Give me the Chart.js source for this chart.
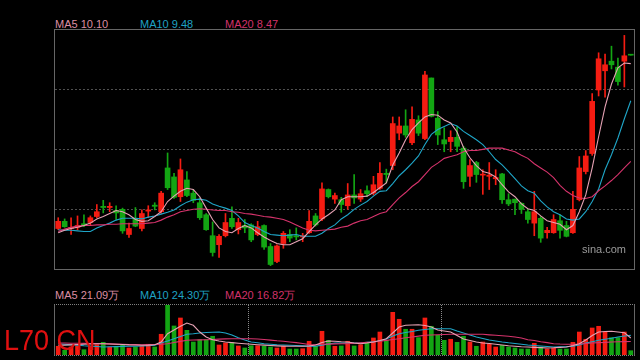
<!DOCTYPE html>
<html><head><meta charset="utf-8">
<script src="https://cdn.jsdelivr.net/npm/chart.js@4/dist/chart.umd.min.js"></script>
<style>
html,body{margin:0;padding:0;background:#000;}
#root{position:relative;width:640px;height:360px;background:#000;overflow:hidden;font-family:"Liberation Sans",Arial,sans-serif;}
#mainFrame{position:absolute;left:54px;top:29px;width:581px;height:241px;box-sizing:border-box;border:1px solid #666;}
#volFrame{position:absolute;left:54px;top:304px;width:581px;height:52px;box-sizing:border-box;border-left:1px solid #666;border-right:1px solid #666;border-top:1px dotted #808080;border-bottom:1px dotted #808080;}
canvas{display:block;}
.lbl{position:absolute;font-size:11px;line-height:11px;white-space:nowrap;}
#wm{position:absolute;left:4px;top:325px;font-size:30px;line-height:30px;color:#e01010;white-space:nowrap;transform:scaleX(0.9);transform-origin:left top;}
#sina{position:absolute;left:582px;top:244px;font-size:11px;line-height:11px;color:#9a9a9a;}
</style></head>
<body>
<div id="root">
  <div id="mainFrame"><canvas id="main" width="579" height="239"></canvas></div>
  <div id="volFrame"><canvas id="vol" width="579" height="50"></canvas></div>
  <div class="lbl" id="l5" style="left:55px;top:19px;color:#dc8ea2"></div>
  <div class="lbl" id="l10" style="left:140px;top:19px;color:#1fa2c4"></div>
  <div class="lbl" id="l20" style="left:225px;top:19px;color:#d2326a"></div>
  <div class="lbl" id="v5" style="left:55px;top:290px;color:#dc8ea2"></div>
  <div class="lbl" id="v10" style="left:140px;top:290px;color:#1fa2c4"></div>
  <div class="lbl" id="v20" style="left:225px;top:290px;color:#d2326a"></div>
  <div id="sina">sina.com</div>
  <div id="wm">L70 CN</div>
</div>
<script>
// ---- price data (one candle per trading day) ----
const opens = [7.35,7.47,7.35,7.37,7.43,7.45,7.55,7.72,7.70,7.65, 7.67,7.25,7.52,7.35,7.64,7.74,7.63,8.36,8.21,7.88, 8.16,7.94,7.78,7.58,7.23,7.08,7.23,7.52,7.33,7.40, 7.41,7.25,7.40,7.05,6.80,7.10,7.25,7.23,7.21,7.28, 7.56,7.51,8.00,7.84,7.83,7.73,7.91,7.84,7.98,7.94, 8.02,8.27,8.40,8.94,9.06,8.78,9.16,8.85,9.86,9.19, 8.83,8.80,8.87,8.69,8.22,8.45,8.24,8.22,8.18,8.26, 7.83,7.84,7.77,7.63,7.44,7.52,7.28,7.28,7.48,7.40, 7.28,7.83,8.30,8.60,9.66,9.98,10.14,10.04,10.14,10.24];
const highs = [7.53,7.51,7.53,7.56,7.58,7.56,7.75,7.82,7.78,7.73, 7.69,7.44,7.70,7.66,7.73,7.78,7.97,8.61,8.27,8.51, 8.30,8.00,7.86,7.60,7.46,7.25,7.60,7.71,7.52,7.50, 7.43,7.47,7.41,7.10,7.08,7.30,7.33,7.36,7.27,7.65, 7.60,8.11,8.01,7.94,7.87,8.10,8.25,8.00,8.06,8.22, 8.45,8.34,9.21,9.21,9.33,9.38,9.23,9.97,9.86,9.30, 9.03,8.98,9.05,8.72,8.50,8.47,8.33,8.45,8.33,8.27, 7.93,7.84,7.78,7.67,7.97,7.55,7.37,7.58,7.58,7.47, 7.97,8.55,8.65,9.60,10.28,10.26,10.39,10.19,10.57,10.24];
const lows = [7.33,7.37,7.25,7.33,7.38,7.40,7.53,7.61,7.63,7.50, 7.27,7.20,7.38,7.31,7.53,7.66,7.60,8.00,7.85,7.80, 7.88,7.78,7.50,7.32,6.89,6.87,7.21,7.35,7.26,7.28, 7.13,7.23,7.00,6.73,6.78,7.02,7.13,7.16,7.13,7.27, 7.39,7.48,7.86,7.77,7.62,7.67,7.77,7.80,7.88,7.91, 8.00,8.11,8.33,8.83,8.87,8.75,8.90,8.83,9.21,8.75, 8.63,8.63,8.63,8.02,8.05,8.12,7.92,8.00,8.08,7.77, 7.73,7.58,7.60,7.44,7.23,7.12,7.19,7.27,7.19,7.21, 7.27,7.81,8.26,8.57,9.56,9.54,10.01,9.74,9.71,10.24];
const closes = [7.47,7.38,7.37,7.40,7.40,7.53,7.63,7.70,7.72,7.61, 7.31,7.35,7.39,7.60,7.66,7.72,7.94,8.03,7.87,8.33, 7.90,7.82,7.53,7.33,6.95,7.22,7.45,7.38,7.45,7.36, 7.16,7.38,7.04,6.75,7.06,7.27,7.19,7.21,7.23,7.47, 7.41,8.01,7.88,7.90,7.75,7.91,7.86,7.93,7.93,8.08, 8.27,8.25,9.10,9.06,8.91,9.17,8.94,9.91,9.22,8.91, 8.76,8.87,8.72,8.13,8.40,8.25,8.25,8.24,8.20,7.83, 7.76,7.78,7.67,7.50,7.63,7.19,7.32,7.50,7.32,7.22, 7.67,8.36,8.56,9.47,10.18,10.08,10.08,9.80,10.23,10.24];
// ---- price moving averages ----
const ma5 = [7.28,7.32,7.35,7.37,7.40,7.44,7.51,7.55,7.60,7.65, 7.63,7.58,7.50,7.47,7.48,7.55,7.63,7.80,7.89,7.97, 8.02,8.00,7.88,7.69,7.50,7.36,7.30,7.28,7.35,7.40, 7.36,7.28,7.21,7.15,7.10,7.08,7.08,7.13,7.18,7.30, 7.41,7.51,7.58,7.66,7.83,7.88,7.88,7.88,7.89,7.95, 8.03,8.11,8.41,8.61,8.83,9.00,9.11,9.21,9.25,9.24, 9.16,9.11,8.96,8.70,8.53,8.40,8.30,8.27,8.21,8.08, 7.96,7.88,7.76,7.68,7.65,7.56,7.48,7.45,7.42,7.33, 7.40,7.63,7.91,8.36,8.88,9.38,9.76,10.03,10.11,10.10];
const ma10 = [7.33,7.32,7.32,7.31,7.30,7.30,7.36,7.40,7.44,7.49, 7.52,7.52,7.52,7.51,7.54,7.56,7.59,7.62,7.66,7.73, 7.79,7.83,7.84,7.82,7.76,7.72,7.69,7.65,7.56,7.45, 7.40,7.36,7.30,7.25,7.24,7.23,7.24,7.25,7.22,7.22, 7.22,7.27,7.35,7.41,7.51,7.58,7.67,7.74,7.80,7.89, 7.97,7.98,8.10,8.23,8.33,8.44,8.56,8.75,8.92,9.00, 9.05,9.10,9.06,8.97,8.90,8.83,8.75,8.63,8.50,8.41, 8.30,8.18,8.06,7.98,7.94,7.81,7.71,7.63,7.58,7.51, 7.49,7.51,7.63,7.80,8.01,8.33,8.58,8.86,9.18,9.48];
const ma20 = [7.30,7.34,7.37,7.39,7.40,7.40,7.41,7.41,7.42,7.42, 7.43,7.43,7.43,7.43,7.44,7.45,7.49,7.54,7.58,7.63, 7.65,7.67,7.68,7.67,7.66,7.65,7.65,7.63,7.62,7.60, 7.59,7.57,7.55,7.54,7.52,7.50,7.46,7.41,7.36,7.32, 7.31,7.32,7.33,7.34,7.37,7.39,7.44,7.48,7.50,7.55, 7.60,7.63,7.75,7.86,7.95,8.05,8.13,8.25,8.37,8.44, 8.52,8.55,8.58,8.63,8.65,8.65,8.67,8.69,8.69,8.69, 8.66,8.63,8.57,8.52,8.43,8.36,8.29,8.20,8.07,7.97, 7.90,7.86,7.85,7.88,7.98,8.06,8.15,8.25,8.36,8.47];
// ---- volume (万) and its moving averages ----
const volumes = [10.8,5.8,9.9,11.2,6.6,9.9,12.8,15.7,9.9,10.8, 12.0,8.7,9.9,11.2,13.3,9.9,25.7,61.6,36.0,45.9, 30.6,16.1,19.0,19.0,23.2,12.4,14.9,15.3,11.2,8.7, 11.5,11.5,10.8,9.9,8.7,10.8,7.4,7.4,7.8,17.0, 10.8,29.4,18.2,10.8,11.2,17.0,11.2,12.8,14.9,21.1, 28.5,18.2,52.9,44.3,31.9,31.9,21.5,45.9,35.6,24.4, 18.2,19.5,15.7,23.2,16.1,10.8,16.1,13.6,9.9,12.0, 9.9,8.7,7.4,7.4,14.5,9.9,7.4,8.7,7.4,7.4, 15.7,28.5,19.5,33.5,35.6,28.5,21.5,21.5,28.5,5.3];
const vma5 = [12.0,12.3,12.6,13.0,13.4,13.6,13.9,14.0,13.6,13.3, 13.0,12.6,12.4,12.0,12.3,12.8,16.0,26.4,31.0,35.6, 39.7,36.8,28.5,22.3,19.0,17.4,16.1,15.3,14.6,14.0, 13.4,12.8,12.2,11.7,11.3,11.0,10.8,10.8,10.9,11.2, 12.4,15.5,17.4,17.1,16.5,16.1,14.9,14.0,14.9,16.1, 18.0,20.2,27.3,34.7,36.8,37.2,37.6,36.6,34.7,31.0, 29.8,28.5,24.2,19.8,18.0,16.1,14.9,14.3,13.3,12.4, 11.5,10.9,10.2,9.9,9.5,9.1,8.7,8.9,9.4,9.9, 11.8,14.0,18.6,24.2,28.5,29.1,29.4,28.5,27.7,21.09];
const vma10 = [14.0,13.4,12.8,12.2,11.5,11.0,10.5,9.9,10.2,10.4, 10.7,10.8,10.9,11.2,11.5,12.0,14.9,17.4,20.2,22.9, 25.7,26.4,27.3,27.9,28.3,28.5,27.3,24.8,21.5,18.6, 16.1,15.1,14.0,13.4,12.8,12.4,12.0,11.7,11.3,11.0, 10.8,12.2,13.6,14.9,14.9,14.9,14.9,14.9,15.7,16.5, 17.4,19.8,23.6,26.4,27.9,29.1,30.6,31.6,32.6,32.6, 32.6,32.6,29.8,27.3,24.8,22.3,20.5,18.6,17.4,16.1, 15.1,14.3,13.4,12.4,11.8,11.2,10.5,9.9,10.2,10.4, 10.8,12.4,14.9,16.5,18.2,19.6,20.8,22.3,23.6,24.30];
const vma20 = [14.9,14.8,14.6,14.5,14.4,14.3,14.1,14.0,13.8,13.5, 13.3,13.0,12.9,12.8,12.9,13.1,13.4,14.0,15.5,16.9, 18.2,18.6,18.8,19.0,19.3,19.7,20.0,20.2,20.2,20.2, 20.2,19.8,19.2,18.5,17.6,17.0,16.1,15.3,14.3,13.1, 12.8,13.3,13.5,13.8,13.9,14.0,14.5,15.0,15.6,16.1, 17.1,18.1,19.2,20.2,21.3,22.3,23.4,24.4,24.8,25.2, 25.4,25.7,25.7,25.7,25.7,25.7,25.7,25.0,24.4,23.8, 23.3,22.3,21.0,19.0,17.9,16.5,15.3,14.0,13.6,13.4, 13.3,13.6,14.3,14.9,15.3,15.6,16.1,16.4,16.6,16.82];
// ---- axis settings ----
const priceRange = [6.675, 10.66];
const priceGrid = [7.67, 8.67, 9.67];
const volumeMax = 62;
const monthBreaks = [30, 60];
const days = opens.map((_, i) => 'D' + (i + 1));

const RED = '#f51c12', GREEN = '#13a513';
const C5 = '#e6a2b4', C10 = '#1fa6c8', C20 = '#d6336c';
const candleColor = (i) => closes[i] > opens[i] ? RED : GREEN;
const colors = days.map((_, i) => candleColor(i));

const last = a => a[a.length - 1].toFixed(2);
document.getElementById('l5').textContent = 'MA5 ' + last(ma5);
document.getElementById('l10').textContent = 'MA10 ' + last(ma10);
document.getElementById('l20').textContent = 'MA20 ' + last(ma20);
document.getElementById('v5').textContent = 'MA5 ' + last(vma5) + '万';
document.getElementById('v10').textContent = 'MA10 ' + last(vma10) + '万';
document.getElementById('v20').textContent = 'MA20 ' + last(vma20) + '万';

const lineDs = (data, color, order) => ({type: 'line', data, borderColor: color, borderWidth: 1.1, pointRadius: 0, tension: 0, fill: false, order});

new Chart(document.getElementById('main'), {
  type: 'bar',
  data: {
    labels: days,
    datasets: [
      lineDs(ma20, C20, 1),
      lineDs(ma10, C10, 1),
      lineDs(ma5, C5, 0),
      {data: opens.map((o, i) => [o, closes[i]]), backgroundColor: colors, barThickness: 5, minBarLength: 1, grouped: false, order: 2},
      {data: lows.map((l, i) => [l, highs[i]]), backgroundColor: colors, barThickness: 1, grouped: false, order: 3}
    ]
  },
  options: {
    responsive: false, animation: false, events: [],
    layout: {padding: 0},
    plugins: {legend: {display: false}, tooltip: {enabled: false}},
    scales: {
      x: {display: false, offset: true},
      y: {display: true, min: priceRange[0], max: priceRange[1],
          ticks: {display: false}, grid: {color: '#505050', drawTicks: false, lineWidth: 1},
          border: {display: false, dash: [2, 2]},
          afterBuildTicks: s => { s.ticks = priceGrid.map(v => ({value: v})); }}
    }
  }
});

new Chart(document.getElementById('vol'), {
  type: 'bar',
  data: {
    labels: days,
    datasets: [
      lineDs(vma20, C20, 1),
      lineDs(vma10, C10, 1),
      lineDs(vma5, C5, 0),
      {data: volumes, backgroundColor: colors, barThickness: 4, order: 2}
    ]
  },
  options: {
    responsive: false, animation: false, events: [],
    layout: {padding: 0},
    plugins: {legend: {display: false}, tooltip: {enabled: false}},
    scales: {
      x: {display: true, offset: true, ticks: {display: false},
          grid: {offset: true, drawTicks: false, lineWidth: 1,
                 color: c => monthBreaks.includes(c.index) ? '#8a8a8a' : 'rgba(0,0,0,0)'},
          border: {display: false, dash: [1, 1]}},
      y: {display: false, min: 0, max: volumeMax}
    }
  }
});
</script>
</body></html>
